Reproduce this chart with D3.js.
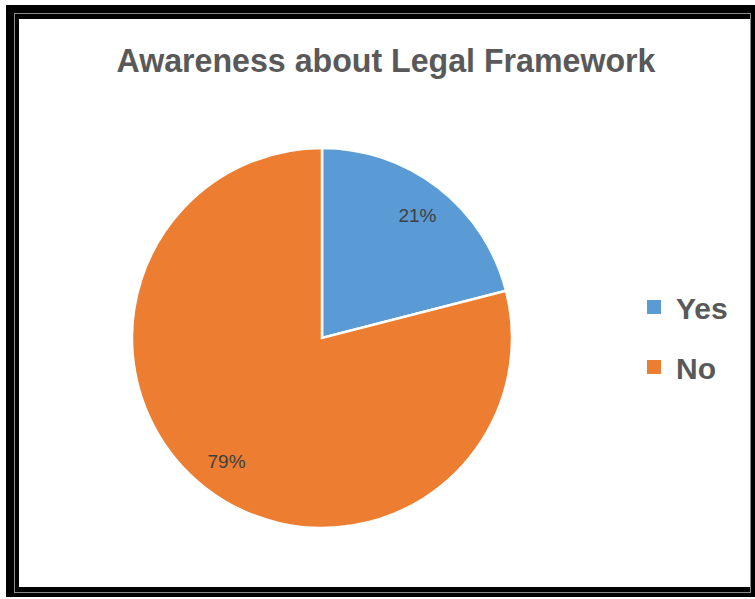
<!DOCTYPE html>
<html>
<head>
<meta charset="utf-8">
<script src="https://cdn.jsdelivr.net/npm/d3@7"></script>
<style>
  html, body { margin: 0; padding: 0; background: #fff; }
  svg { display: block; }
</style>
</head>
<body>
<svg id="chart" width="755" height="599"></svg>
<script>
// Survey responses
const categories = ["Yes", "No"];
const shares = [21, 79];
const colors = ["#5B9BD5", "#ED7D31"];
const chartTitle = "Awareness about Legal Framework";

const svg = d3.select("#chart");

// Framed chart area
svg.append("rect").attr("x", 6).attr("y", 5).attr("width", 760).attr("height", 592).attr("fill", "#000");
svg.append("rect").attr("x", 14.5).attr("y", 13.5).attr("width", 736).attr("height", 579)
  .attr("fill", "none").attr("stroke", "#8a8a8a").attr("stroke-width", 1);
svg.append("rect").attr("x", 19).attr("y", 19).attr("width", 731).attr("height", 568).attr("fill", "#fff");

// Title
svg.append("text")
  .attr("x", 386).attr("y", 72)
  .attr("text-anchor", "middle")
  .attr("font-family", "'Liberation Sans', Arial, sans-serif")
  .attr("font-weight", "bold")
  .attr("font-size", 34)
  .attr("fill", "#595959")
  .attr("textLength", 539)
  .attr("lengthAdjust", "spacingAndGlyphs")
  .text(chartTitle);

// Pie
const cx = 322, cy = 338, radius = 190;
const data = categories.map((c, i) => ({ cat: c, value: shares[i], color: colors[i] }));
const pie = d3.pie().value(d => d.value).sort(null);
const arc = d3.arc().innerRadius(0).outerRadius(radius);
const labelArc = d3.arc().innerRadius(radius * 0.82).outerRadius(radius * 0.82);

const g = svg.append("g").attr("transform", `translate(${cx},${cy})`);
const arcs = pie(data);

g.selectAll("path.slice")
  .data(arcs)
  .enter().append("path")
  .attr("class", "slice")
  .attr("d", arc)
  .attr("fill", d => d.data.color)
  .attr("stroke", "#fff")
  .attr("stroke-width", 2.5)
  .attr("stroke-linejoin", "miter");

g.selectAll("text.lbl")
  .data(arcs)
  .enter().append("text")
  .attr("class", "lbl")
  .attr("transform", d => `translate(${labelArc.centroid(d)})`)
  .attr("text-anchor", "middle")
  .attr("dy", "0.35em")
  .attr("font-family", "'Liberation Sans', Arial, sans-serif")
  .attr("font-size", 19)
  .attr("fill", "#404040")
  .text(d => d.data.value + "%");

// Legend
const legend = svg.append("g").attr("transform", "translate(647,300)");
const item = legend.selectAll("g.item")
  .data(data)
  .enter().append("g")
  .attr("class", "item")
  .attr("transform", (d, i) => `translate(0,${i * 60})`);

item.append("rect")
  .attr("x", 0).attr("y", 0).attr("width", 14).attr("height", 14)
  .attr("fill", d => d.color);

item.append("text")
  .attr("x", 29).attr("y", 19)
  .attr("font-family", "'Liberation Sans', Arial, sans-serif")
  .attr("font-weight", "bold")
  .attr("font-size", 30)
  .attr("fill", "#595959")
  .text(d => d.cat);
</script>
</body>
</html>
